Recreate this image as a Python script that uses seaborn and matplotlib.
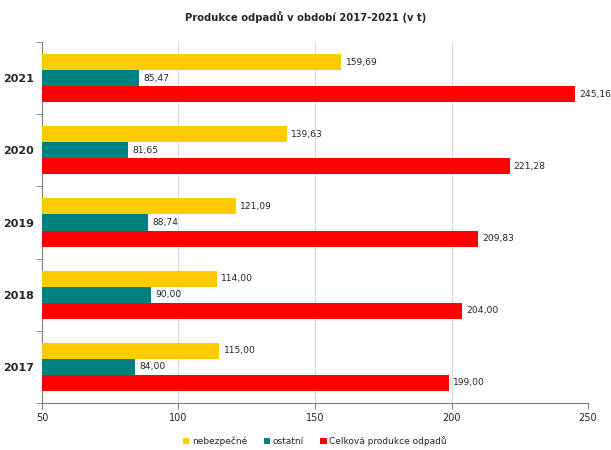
import pandas as pd
import numpy as np
import matplotlib
matplotlib.use('Agg')
import matplotlib.pyplot as plt
import seaborn as sns
from matplotlib.ticker import FixedLocator

roky = ['2021', '2020', '2019', '2018', '2017']
nebezpecne = [159.69, 139.63, 121.09, 114.00, 115.00]
ostatni = [85.47, 81.65, 88.74, 90.00, 84.00]
celkova = [245.16, 221.28, 209.83, 204.00, 199.00]
serie = ['nebezpečné', 'ostatní', 'Celková produkce odpadů']
barvy = ['#FFCC00', '#008080', '#FF0000']

df = pd.DataFrame({
    'rok': roky * 3,
    'typ': [serie[0]] * 5 + [serie[1]] * 5 + [serie[2]] * 5,
    'hodnota': nebezpecne + ostatni + celkova,
})

sns.set_style("white")
plt.rcParams['font.family'] = ['DejaVu Sans']

fig = plt.figure(figsize=(6.11, 4.5), dpi=100)
ax = fig.add_axes([0.0687, 0.1044, 0.8937, 0.8023])

g = sns.barplot(data=df, y='rok', x='hodnota', hue='typ', order=roky,
                hue_order=serie, palette=barvy, saturation=1, width=0.667,
                gap=0, linewidth=0, orient='h', ax=ax, zorder=3)

# popisky hodnot s desetinnou čárkou
for cont in ax.containers:
    labels = [f'{b.get_width():.2f}'.replace('.', ',') for b in cont]
    ax.bar_label(cont, labels=labels, padding=3, fontsize=6.6, color='#262626')

ax.set_xlim(50, 250)
ax.set_xticks([50, 100, 150, 200, 250])
ax.set_ylim(4.5, -0.5)
ax.xaxis.grid(True, color='#d9d9d9', lw=0.8, zorder=0)
ax.yaxis.grid(False)

for s in ['top', 'right']:
    ax.spines[s].set_visible(False)
for s in ['left', 'bottom']:
    ax.spines[s].set_color('#808080')
    ax.spines[s].set_linewidth(0.8)

ax.tick_params(axis='x', length=4, color='#808080', labelsize=7, bottom=True)
ax.tick_params(axis='y', which='major', length=0, labelsize=8, pad=6)
ax.yaxis.set_minor_locator(FixedLocator(np.arange(-0.5, 5, 1)))
ax.tick_params(axis='y', which='minor', length=4, color='#808080', left=True)
for t in ax.get_yticklabels():
    t.set_fontweight('bold')

ax.set_xlabel('')
ax.set_ylabel('')
fig.suptitle('Produkce odpadů v období 2017-2021 (v t)', fontsize=7.2,
             fontweight='bold', y=0.975)

ax.legend(loc='upper center', bbox_to_anchor=(0.5, -0.07), ncol=3,
          frameon=False, fontsize=6.5, handlelength=0.7, handleheight=0.7,
          handletextpad=0.3, columnspacing=1.8)

plt.savefig('out.png', dpi=100)
